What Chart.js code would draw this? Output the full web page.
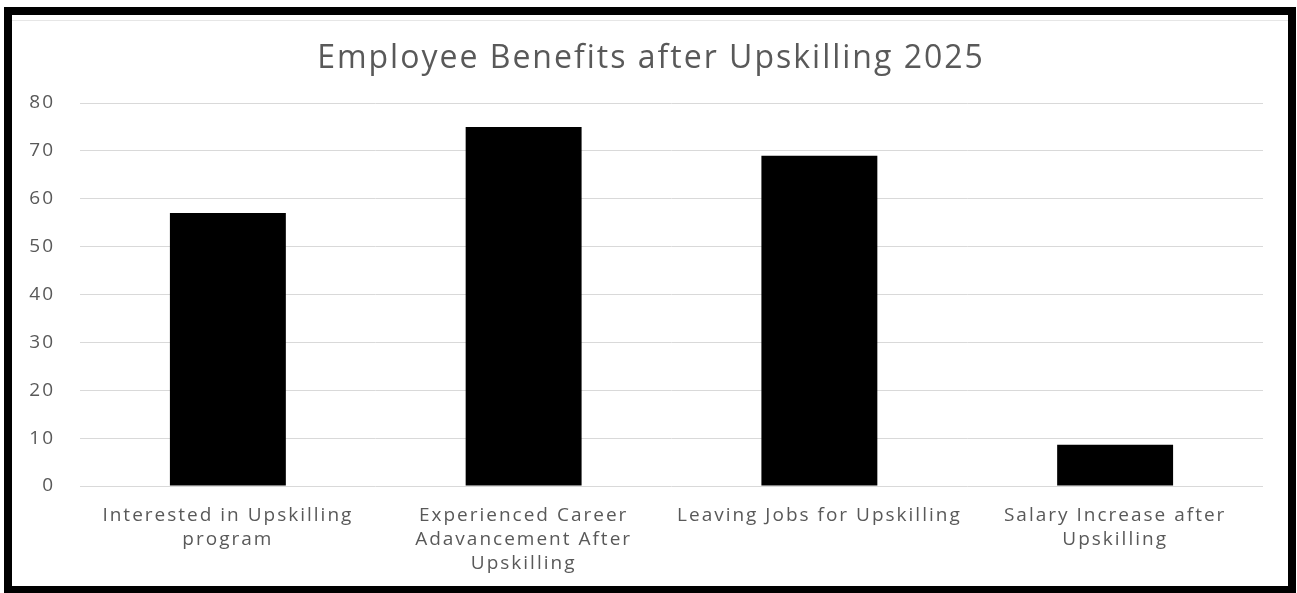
<!DOCTYPE html>
<html>
<head>
<meta charset="utf-8">
<script src="https://cdn.jsdelivr.net/npm/chart.js@4"></script>
<style>
  html, body { margin: 0; padding: 0; background: #fff; }
  #frame {
    position: absolute;
    left: 4px;
    top: 7px;
    width: 1292px;
    height: 587px;
    border: 8px solid #000;
    box-sizing: border-box;
    background: #fff;
  }
  /* faint outline of the inner chart box along the top */
  #frame .edge {
    position: absolute;
    left: 0;
    right: 0;
    top: 5px;
    height: 1px;
    background: #e6e6e6;
  }
  #chart { display: block; position: relative; }
</style>
</head>
<body>
<div id="frame"><div class="edge"></div><canvas id="chart" width="1276" height="571"></canvas></div>
<script>
const categories = [
  ["Interested in Upskilling", "program"],
  ["Experienced Career", "Adavancement After", "Upskilling"],
  ["Leaving Jobs for Upskilling"],
  ["Salary Increase after", "Upskilling"],
];
const values = [57, 75, 69, 8.6];
const yTicks = [0, 10, 20, 30, 40, 50, 60, 70, 80];

const textGray = "#595959";
const fontFamily = "'Open Sans', sans-serif";

// a bit of tracking so the labels run as wide as the office-style text;
// set again before drawing since resizing the canvas resets the context
const looseText = {
  id: "looseText",
  beforeUpdate: (chart) => {
    chart.ctx.letterSpacing = "2px";
  },
  beforeDraw: (chart) => {
    chart.ctx.letterSpacing = "2px";
  },
};

// center the title on the whole frame rather than the padded area
const titleShift = {
  id: "titleShift",
  afterLayout: (chart) => {
    if (chart.titleBlock) {
      chart.titleBlock.left += 7;
      chart.titleBlock.right += 7;
    }
  },
};

document.addEventListener("DOMContentLoaded", () => {
  const ctx = document.getElementById("chart").getContext("2d");

  new Chart(ctx, {
    type: "bar",
    plugins: [looseText, titleShift],
    data: {
      labels: categories,
      datasets: [
        {
          label: "Employees",
          data: values,
          backgroundColor: "#000",
          borderWidth: 0,
          categoryPercentage: 1,
          barPercentage: 0.392,
        },
      ],
    },
    options: {
      responsive: false,
      animation: false,
      devicePixelRatio: 1,
      layout: {
        padding: { left: 13, right: 25, top: 0, bottom: 0 },
      },
      scales: {
        x: {
          grid: { display: false },
          border: { display: false },
          ticks: {
            color: textGray,
            font: { family: fontFamily, size: 19, lineHeight: 1.26 },
            padding: 10,
            maxRotation: 0,
            autoSkip: false,
          },
          afterFit: (scale) => {
            scale.height = 100;
          },
        },
        y: {
          min: yTicks[0],
          max: yTicks[yTicks.length - 1],
          afterBuildTicks: (scale) => {
            scale.ticks = yTicks.map((v) => ({ value: v }));
          },
          grid: {
            color: "#d9d9d9",
            lineWidth: 1,
            drawTicks: false,
          },
          border: { display: false },
          ticks: {
            color: textGray,
            font: { family: fontFamily, size: 19 },
            padding: 25,
          },
          afterFit: (scale) => {
            scale.width = 55;
          },
        },
      },
      plugins: {
        legend: { display: false },
        tooltip: { enabled: false },
        title: {
          display: true,
          text: "Employee Benefits after Upskilling 2025",
          color: textGray,
          font: { family: fontFamily, size: 32, weight: "normal", lineHeight: 1.2 },
          padding: { top: 25, bottom: 24.6 },
        },
      },
    },
  });
});
</script>
</body>
</html>
